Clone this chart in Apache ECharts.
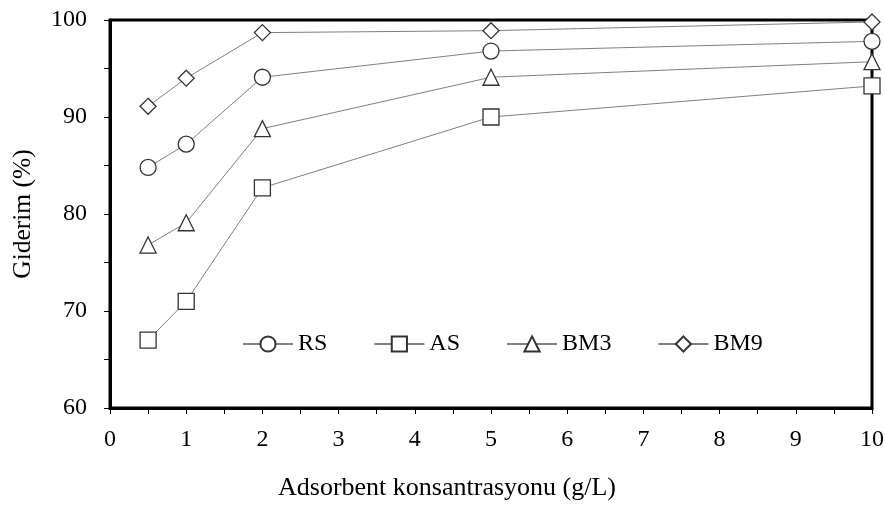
<!DOCTYPE html>
<html>
<head>
<meta charset="utf-8">
<script src="https://cdn.jsdelivr.net/npm/echarts@6/dist/echarts.min.js"></script>
<style>html,body{margin:0;padding:0;background:#fff}#c{width:885px;height:507px}</style>
</head>
<body>
<div id="c"></div>
<script>
var xValues = [0.5, 1, 2, 5, 10];
var seriesNames = ['RS', 'AS', 'BM3', 'BM9'];
var rsValues  = [84.8, 87.2, 94.1, 96.8, 97.8];
var asValues  = [67.0, 71.0, 82.7, 90.0, 93.2];
var bm3Values = [76.8, 79.1, 88.8, 94.1, 95.7];
var bm9Values = [91.1, 94.0, 98.7, 98.9, 99.8];
var xTickLabels = ['0','1','2','3','4','5','6','7','8','9','10'];
var yTickLabels = ['60','70','80','90','100'];

var FONT = 'Liberation Serif';
function pairs(vals){ return xValues.map(function(x,i){ return [x, vals[i]]; }); }
var symbols = ['circle','rect','triangle','diamond'];
var allVals = [rsValues, asValues, bm3Values, bm9Values];

var chart = echarts.init(document.getElementById('c'), null, {renderer:'canvas'});
chart.setOption({
  animation: false,
  backgroundColor: '#fff',
  textStyle: {fontFamily: FONT},
  grid: {left: 110, right: 13, top: 20, bottom: 99, containLabel: false, outerBoundsMode: 'none',
         show: true, borderColor: '#000', borderWidth: 3, backgroundColor: 'transparent'},
  legend: {
    data: seriesNames,
    left: 242, top: 332, padding: 0,
    itemWidth: 50, itemHeight: 19, itemGap: 46,
    textStyle: {fontFamily: FONT, fontSize: 24, color: '#000'},
    inactiveColor: '#ccc'
  },
  xAxis: {
    type: 'value', min: 0, max: 10, interval: 1,
    name: 'Adsorbent konsantrasyonu (g/L)', nameLocation: 'middle', nameGap: 67,
    nameTextStyle: {fontFamily: FONT, fontSize: 26, color: '#000', padding: [0, 88, 0, 0]},
    axisLine: {show: true, onZero: false, lineStyle: {color: '#000', width: 3}},
    axisTick: {show: true, inside: false, length: 6, lineStyle: {color: '#000', width: 1}},
    minorTick: {show: true, splitNumber: 2, length: 6, lineStyle: {color: '#000', width: 1}},
    axisLabel: {fontFamily: FONT, fontSize: 24, color: '#000', margin: 20,
      formatter: function(v){ return xTickLabels[Math.round(v)] || ''; }},
    splitLine: {show: false}, minorSplitLine: {show: false}
  },
  yAxis: {
    type: 'value', min: 60, max: 100, interval: 10,
    name: 'Giderim (%)', nameLocation: 'middle', nameGap: 74, nameRotate: 90,
    nameTextStyle: {fontFamily: FONT, fontSize: 25.5, color: '#000'},
    axisLine: {show: true, onZero: false, lineStyle: {color: '#000', width: 3}},
    axisTick: {show: true, inside: false, length: 6, lineStyle: {color: '#000', width: 1}},
    minorTick: {show: true, splitNumber: 2, length: 6, lineStyle: {color: '#000', width: 1}},
    axisLabel: {fontFamily: FONT, fontSize: 24, color: '#000', margin: 23,
      formatter: function(v){ return yTickLabels[Math.round((v-60)/10)] || ''; }},
    splitLine: {show: false}, minorSplitLine: {show: false}
  },
  series: seriesNames.map(function(n, i){
    return {
      name: n, type: 'line', data: pairs(allVals[i]),
      symbol: symbols[i], symbolSize: 16, showSymbol: true, clip: false,
      lineStyle: {color: '#808080', width: 1},
      itemStyle: {color: '#fff', borderColor: '#333', borderWidth: 1.3},
      emphasis: {disabled: true}, z: 5
    };
  })
});
</script>
</body>
</html>
